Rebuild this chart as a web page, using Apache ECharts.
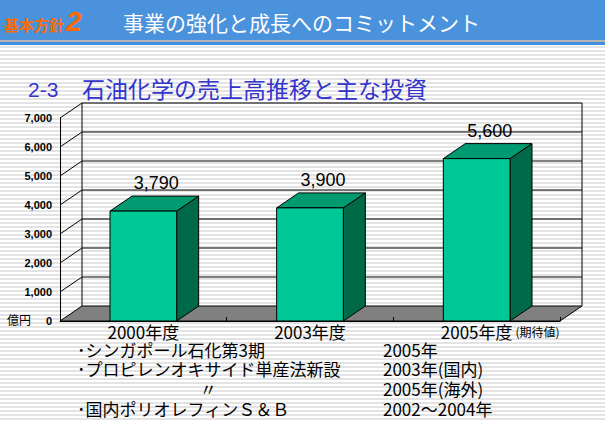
<!DOCTYPE html>
<html lang="ja">
<head>
<meta charset="UTF-8">
<title>石油化学の売上高推移と主な投資</title>
<style>
  html, body { margin: 0; padding: 0; }
  body {
    width: 605px; height: 422px; overflow: hidden;
    background: repeating-linear-gradient(to bottom, #ffffff 0px, #ffffff 2px, #e3e3e3 2px, #e3e3e3 4px);
  }
  #chart { width: 605px; height: 422px; }
</style>
</head>
<body>
<div id="chart"></div>
<script src="https://cdn.jsdelivr.net/npm/echarts@6/dist/echarts.min.js"></script>
<script>
// 売上高（億円）
var years = ['2000年度', '2003年度', '2005年度'];
var yearNotes = ['', '', '(期待値)'];
var sales = [3790, 3900, 5600];
var yTicks = [0, 1000, 2000, 3000, 4000, 5000, 6000, 7000];

// 主な投資
var investments = ['･シンガポール石化第3期', '･プロピレンオキサイド単産法新設', '〃', '･国内ポリオレフィンＳ＆Ｂ'];
var investYears = ['2005年', '2003年(国内)', '2005年(海外)', '2002～2004年'];

var DX = 22, DY = -15;   // 奥行き
var JP = '"Noto Sans CJK JP", sans-serif';

var chart = echarts.init(document.getElementById('chart'), null, { renderer: 'svg' });

function fmt(v) {
  return Number(v).toLocaleString('en-US');
}

// 壁・床
function renderFrame(params, api) {
  var cs = params.coordSys;
  var v = api.value(1);
  var y = api.coord([0, v])[1];
  var x0 = cs.x, x1 = cs.x + cs.width;
  var children = [];
  if (v === 0) {
    children.push({
      type: 'polygon',
      shape: { points: [[x0, y], [x1, y], [x1 + DX, y + DY], [x0 + DX, y + DY]] },
      style: { fill: '#808080', stroke: '#000', lineWidth: 1 }
    });
    children.push({
      type: 'line',
      shape: { x1: x0 + DX, y1: y + DY, x2: x0 + DX, y2: cs.y + DY },
      style: { stroke: '#000', lineWidth: 1 }
    });
    children.push({
      type: 'line',
      shape: { x1: x1 + DX, y1: y + DY, x2: x1 + DX, y2: cs.y + DY },
      style: { stroke: '#000', lineWidth: 1 }
    });
  } else {
    children.push({
      type: 'line',
      shape: { x1: x0, y1: y, x2: x0 + DX, y2: y + DY },
      style: { stroke: '#000', lineWidth: 1 }
    });
    children.push({
      type: 'line',
      shape: { x1: x0 + DX, y1: y + DY, x2: x1 + DX, y2: y + DY },
      style: { stroke: '#000', lineWidth: 1 }
    });
  }
  return { type: 'group', children: children };
}

// 立体棒
function renderBar(params, api) {
  var idx = api.value(0);
  var top = api.coord([idx, api.value(1)]);
  var base = api.coord([idx, 0]);
  var w = api.size([1, 0])[0] * 0.4;
  var xa = top[0] - w / 2, xb = top[0] + w / 2;
  var yt = top[1], yb = base[1];
  return {
    type: 'group',
    children: [
      {
        type: 'polygon',
        shape: { points: [[xb, yt], [xb + DX, yt + DY], [xb + DX, yb + DY], [xb, yb]] },
        style: { fill: '#006a48', stroke: '#000', lineWidth: 1 }
      },
      {
        type: 'polygon',
        shape: { points: [[xa, yt], [xb, yt], [xb + DX, yt + DY], [xa + DX, yt + DY]] },
        style: { fill: '#009a70', stroke: '#000', lineWidth: 1 }
      },
      {
        type: 'rect',
        shape: { x: xa, y: yt, width: w, height: yb - yt },
        style: { fill: '#00c896', stroke: '#000', lineWidth: 1 }
      },
      {
        type: 'text',
        x: top[0] + 13,
        y: yt + DY - 13,
        style: {
          text: fmt(api.value(1)),
          fill: '#000',
          font: '18px "Liberation Sans", Arial, sans-serif',
          align: 'center',
          verticalAlign: 'middle'
        }
      }
    ]
  };
}

// 左列（〃 は全角スペースで寄せる）
var leftLines = investments.map(function (t) {
  return t === '〃' ? '\u3000\u3000\u3000\u3000\u3000\u3000\u3000 ' + t : t;
});

var graphics = [
  { type: 'rect', left: 0, top: 0, shape: { width: 605, height: 40 }, style: { fill: '#4a92dc' } },
  { type: 'rect', left: 0, top: 40, shape: { width: 605, height: 2 }, style: { fill: '#b4b4b4' } },
  { type: 'rect', left: 0, top: 42, shape: { width: 605, height: 3 }, style: { fill: '#3f8ee0' } },
  {
    type: 'text', x: 4, y: 24,
    style: {
      text: '基本方針', fill: '#ff6a00', font: 'bold 15px ' + JP, verticalAlign: 'middle',
      shadowColor: 'rgba(60,20,0,0.9)', shadowBlur: 1, shadowOffsetX: 1, shadowOffsetY: 1
    }
  },
  {
    type: 'text', x: 66, y: 21,
    style: {
      text: '2', fill: '#ff6a00', font: 'italic bold 28px "Liberation Sans", Arial, sans-serif', verticalAlign: 'middle',
      shadowColor: 'rgba(60,20,0,0.9)', shadowBlur: 1, shadowOffsetX: 1, shadowOffsetY: 1
    }
  },
  {
    type: 'text', x: 123, y: 22,
    style: {
      text: '事業の強化と成長へのコミットメント', fill: '#ffffff', font: '21px ' + JP, verticalAlign: 'middle',
      shadowColor: 'rgba(30,30,30,0.9)', shadowBlur: 1, shadowOffsetX: 1, shadowOffsetY: 1
    }
  },
  {
    type: 'text', x: 28, y: 89,
    style: { text: '2-3', fill: '#3434cc', font: '21px "Liberation Sans", Arial, sans-serif', verticalAlign: 'middle' }
  },
  {
    type: 'text', x: 82, y: 88,
    style: { text: '石油化学の売上高推移と主な投資', fill: '#3434cc', font: '23px ' + JP, verticalAlign: 'middle' }
  },
  {
    type: 'text', x: 7, y: 319,
    style: { text: '億円', fill: '#000', font: '12px ' + JP, verticalAlign: 'middle' }
  },
  {
    type: 'text', x: 77, y: 339.5,
    style: { text: leftLines.join('\n'), fill: '#000', font: '17px ' + JP, lineHeight: 19.6, verticalAlign: 'top' }
  },
  {
    type: 'text', x: 383, y: 339.5,
    style: { text: investYears.join('\n'), fill: '#000', font: '17px ' + JP, lineHeight: 19.6, verticalAlign: 'top' }
  }
];

var option = {
  backgroundColor: 'transparent',
  animation: false,
  graphic: graphics,
  grid: { left: 60, right: 45, top: 118, bottom: 101, containLabel: false },
  xAxis: {
    type: 'category',
    data: years,
    z: 5,
    axisLine: { lineStyle: { color: '#000', width: 1 } },
    axisTick: { show: true, inside: true, length: 4, lineStyle: { color: '#000' } },
    axisLabel: {
      interval: 0,
      hideOverlap: false,
      margin: 3,
      color: '#000',
      lineHeight: 15,
      formatter: function (v, i) {
        var note = yearNotes[i];
        return note ? '{pad|}{m|' + v + '}{s|' + note + '}' : '{m|' + v + '}';
      },
      rich: {
        m: { fontSize: 17, lineHeight: 15, fontFamily: 'Noto Sans CJK JP', color: '#000' },
        s: { fontSize: 12, lineHeight: 15, fontFamily: 'Noto Sans CJK JP', color: '#000', width: 50, align: 'left' },
        pad: { width: 50, lineHeight: 15 }
      }
    }
  },
  yAxis: {
    type: 'value',
    min: 0,
    max: 7000,
    interval: 1000,
    axisLine: { show: true, lineStyle: { color: '#000', width: 1 } },
    axisTick: { show: false },
    splitLine: { show: false },
    axisLabel: {
      margin: 8,
      color: '#000',
      fontSize: 11,
      fontWeight: 'bold',
      fontFamily: 'Liberation Sans',
      formatter: fmt
    }
  },
  series: [
    {
      type: 'custom',
      name: 'frame',
      renderItem: renderFrame,
      data: yTicks.map(function (t) { return [0, t]; }),
      silent: true,
      clip: false
    },
    {
      type: 'custom',
      name: '売上高',
      renderItem: renderBar,
      data: sales.map(function (s, i) { return [i, s]; }),
      clip: false
    }
  ]
};

chart.setOption(option);
</script>
</body>
</html>
